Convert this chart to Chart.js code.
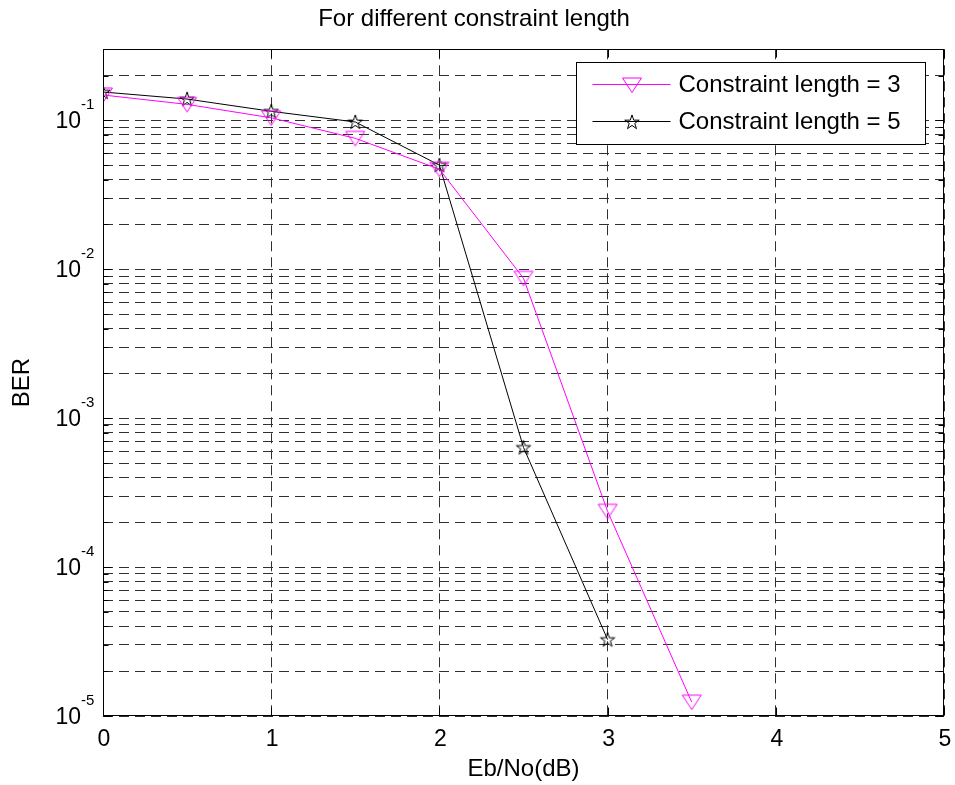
<!DOCTYPE html>
<html>
<head>
<meta charset="utf-8">
<script src="https://cdn.jsdelivr.net/npm/chart.js@4.4.1/dist/chart.umd.min.js"></script>
<style>
  html, body { margin: 0; padding: 0; background: #ffffff; }
  #wrap { width: 955px; height: 785px; }
</style>
</head>
<body>
<div id="wrap"><canvas id="c" width="955" height="785"></canvas></div>
<script>
// ---------------- data ----------------
const titleText = 'For different constraint length';
const xLabel = 'Eb/No(dB)';
const yLabel = 'BER';
const seriesNames = ['Constraint length = 3', 'Constraint length = 5'];

const ebnoK3 = [0, 0.5, 1, 1.5, 2, 2.5, 3, 3.5];
const berK3  = [0.148, 0.128, 0.104, 0.0757, 0.047, 0.0087, 2.37e-4, 1.24e-5];

const ebnoK5 = [0, 0.5, 1, 1.5, 2, 2.5, 3];
const berK5  = [0.155, 0.139, 0.115, 0.0975, 0.050, 6.36e-4, 3.26e-5];

const xTicks = [0, 1, 2, 3, 4, 5];
const xTickLabels = ['0', '1', '2', '3', '4', '5'];
const yMajorTicks = [1e-5, 1e-4, 1e-3, 1e-2, 1e-1];
const yMajorExponents = ['-5', '-4', '-3', '-2', '-1'];
const yMinorMultipliers = [2, 3, 4, 5, 6, 7, 8, 9];
const yMin = 1e-5, yMax = 0.3;
const xMin = 0, xMax = 5;

// ---------------- styles ----------------
const FONT = '"Liberation Sans", Arial, Helvetica, sans-serif';
const colK3 = '#ff00ff';
const colK5 = '#000000';
const gridColor = '#303030';
const gridDash = [10, 6];

// grid values for log axis (major + minor)
const yGridValues = [];
yMajorTicks.forEach(m => {
  yGridValues.push(m);
  yMinorMultipliers.forEach(k => {
    const v = m * k;
    if (v <= yMax * 1.0001) yGridValues.push(v);
  });
});

// ---------------- marker images ----------------
function triangleDown(color) {
  const c = document.createElement('canvas');
  c.width = 24; c.height = 22;
  const g = c.getContext('2d');
  g.strokeStyle = color; g.lineWidth = 1;
  const cx = 12, cy = 11, hw = 9.5, hh = 7.5;
  g.beginPath();
  g.moveTo(cx - hw, cy - hh + 0.5);
  g.lineTo(cx + hw, cy - hh + 0.5);
  g.lineTo(cx, cy + hh);
  g.closePath();
  g.stroke();
  return c;
}
function pentagram(color) {
  const c = document.createElement('canvas');
  c.width = 20; c.height = 20;
  const g = c.getContext('2d');
  g.strokeStyle = color; g.lineWidth = 1;
  const cx = 10, cy = 10.5, R = 7.6, r = R * 0.382;
  g.beginPath();
  for (let i = 0; i < 10; i++) {
    const ang = -Math.PI / 2 + i * Math.PI / 5;
    const rad = (i % 2 === 0) ? R : r;
    const px = cx + rad * Math.cos(ang), py = cy + rad * Math.sin(ang);
    if (i === 0) g.moveTo(px, py); else g.lineTo(px, py);
  }
  g.closePath();
  g.stroke();
  return c;
}
const markK3 = triangleDown(colK3);
const markK5 = pentagram(colK5);

// ---------------- plugin: frame, inner ticks, tick labels, legend ----------------
const decorPlugin = {
  id: 'decor',
  afterDraw(chart) {
    const ctx = chart.ctx;
    const a = chart.chartArea;
    const xs = chart.scales.x, ys = chart.scales.y;
    ctx.save();
    // frame
    ctx.strokeStyle = '#000'; ctx.lineWidth = 1; ctx.setLineDash([]);
    const L = Math.round(a.left) + 0.5, R = Math.round(a.right) - 0.5;
    const T = Math.round(a.top) + 0.5, B = Math.round(a.bottom) - 0.5;
    ctx.strokeRect(L, T, R - L, B - T);
    // inner ticks x
    ctx.beginPath();
    xTicks.forEach(v => {
      const px = Math.round(xs.getPixelForValue(v)) + 0.5;
      ctx.moveTo(px, B); ctx.lineTo(px, B - 8);
      ctx.moveTo(px, T); ctx.lineTo(px, T + 8);
    });
    // inner ticks y
    yGridValues.forEach(v => {
      const py = Math.round(ys.getPixelForValue(v)) + 0.5;
      const len = yMajorTicks.includes(v) ? 8 : 5;
      ctx.moveTo(L, py); ctx.lineTo(L + len, py);
      ctx.moveTo(R, py); ctx.lineTo(R - len, py);
    });
    ctx.stroke();
    // x tick labels
    ctx.fillStyle = '#000';
    ctx.font = '23px ' + FONT;
    ctx.textAlign = 'center'; ctx.textBaseline = 'alphabetic';
    xTicks.forEach((v, i) => {
      ctx.fillText(xTickLabels[i], xs.getPixelForValue(v) + 1, a.bottom + 30);
    });
    // y tick labels 10^n
    yMajorTicks.forEach((v, i) => {
      const py = ys.getPixelForValue(v);
      ctx.font = '23px ' + FONT;
      ctx.textAlign = 'right'; ctx.textBaseline = 'alphabetic';
      ctx.fillText('10', 81, py + 7.5);
      ctx.font = '15px ' + FONT;
      ctx.textAlign = 'left';
      ctx.fillText(yMajorExponents[i], 81, py - 11.5);
    });
    // legend
    const bx0 = Math.round(a.right) - 367.5, bx1 = Math.round(a.right) - 18.5;
    const by0 = Math.round(a.top) + 13.5, by1 = Math.round(a.top) + 95.5;
    ctx.fillStyle = '#fff';
    ctx.fillRect(bx0, by0, bx1 - bx0, by1 - by0);
    ctx.strokeStyle = '#000';
    ctx.strokeRect(bx0, by0, bx1 - bx0, by1 - by0);
    const rows = [
      { y: by0 + 22, color: colK3, img: markK3, label: seriesNames[0] },
      { y: by0 + 59, color: colK5, img: markK5, label: seriesNames[1] }
    ];
    rows.forEach(r => {
      const lx0 = bx0 + 16, lx1 = bx0 + 94, mx = (lx0 + lx1) / 2;
      ctx.strokeStyle = r.color; ctx.lineWidth = 1;
      ctx.beginPath(); ctx.moveTo(lx0, r.y); ctx.lineTo(lx1, r.y); ctx.stroke();
      ctx.drawImage(r.img, Math.round(mx - r.img.width / 2), Math.round(r.y - r.img.height / 2));
      ctx.fillStyle = '#000';
      ctx.font = '24px ' + FONT;
      ctx.textAlign = 'left'; ctx.textBaseline = 'middle';
      ctx.fillText(r.label, bx0 + 102, r.y + 1);
    });
    ctx.restore();
  }
};

// ---------------- chart ----------------
const ctx = document.getElementById('c').getContext('2d');
new Chart(ctx, {
  type: 'line',
  data: {
    datasets: [
      {
        label: seriesNames[0],
        data: ebnoK3.map((x, i) => ({ x: x, y: berK3[i] })),
        borderColor: colK3,
        backgroundColor: 'rgba(0,0,0,0)',
        borderWidth: 1,
        pointStyle: markK3,
        pointRadius: 10,
        tension: 0
      },
      {
        label: seriesNames[1],
        data: ebnoK5.map((x, i) => ({ x: x, y: berK5[i] })),
        borderColor: colK5,
        backgroundColor: 'rgba(0,0,0,0)',
        borderWidth: 1,
        pointStyle: markK5,
        pointRadius: 8,
        tension: 0
      }
    ]
  },
  options: {
    responsive: false,
    animation: false,
    devicePixelRatio: 1,
    layout: { padding: { left: 0, right: 7, top: 0, bottom: 0 } },
    plugins: {
      legend: { display: false },
      tooltip: { enabled: false },
      title: {
        display: true,
        text: titleText,
        color: '#000',
        font: { family: FONT, size: 24, weight: 'normal' },
        padding: { top: 5, bottom: 15.5 }
      }
    },
    scales: {
      x: {
        type: 'linear',
        min: xMin, max: xMax,
        afterBuildTicks(scale) { scale.ticks = xTicks.map(v => ({ value: v })); },
        afterFit(scale) { scale.height = 69; },
        ticks: { display: false, autoSkip: false },
        grid: { color: gridColor, lineWidth: 1, drawTicks: false },
        border: { display: false, dash: gridDash },
        title: {
          display: true, text: xLabel, color: '#000',
          font: { family: FONT, size: 24 },
          padding: { top: 0, bottom: 1 }
        }
      },
      y: {
        type: 'logarithmic',
        min: yMin, max: yMax,
        afterBuildTicks(scale) { scale.ticks = yGridValues.map(v => ({ value: v })); },
        afterFit(scale) { scale.width = 103; },
        ticks: { display: false, autoSkip: false },
        grid: { color: gridColor, lineWidth: 1, drawTicks: false },
        border: { display: false, dash: gridDash },
        title: {
          display: true, text: yLabel, color: '#000',
          font: { family: FONT, size: 24 },
          padding: { top: 8, bottom: 0 }
        }
      }
    }
  },
  plugins: [decorPlugin]
});
</script>
</body>
</html>
